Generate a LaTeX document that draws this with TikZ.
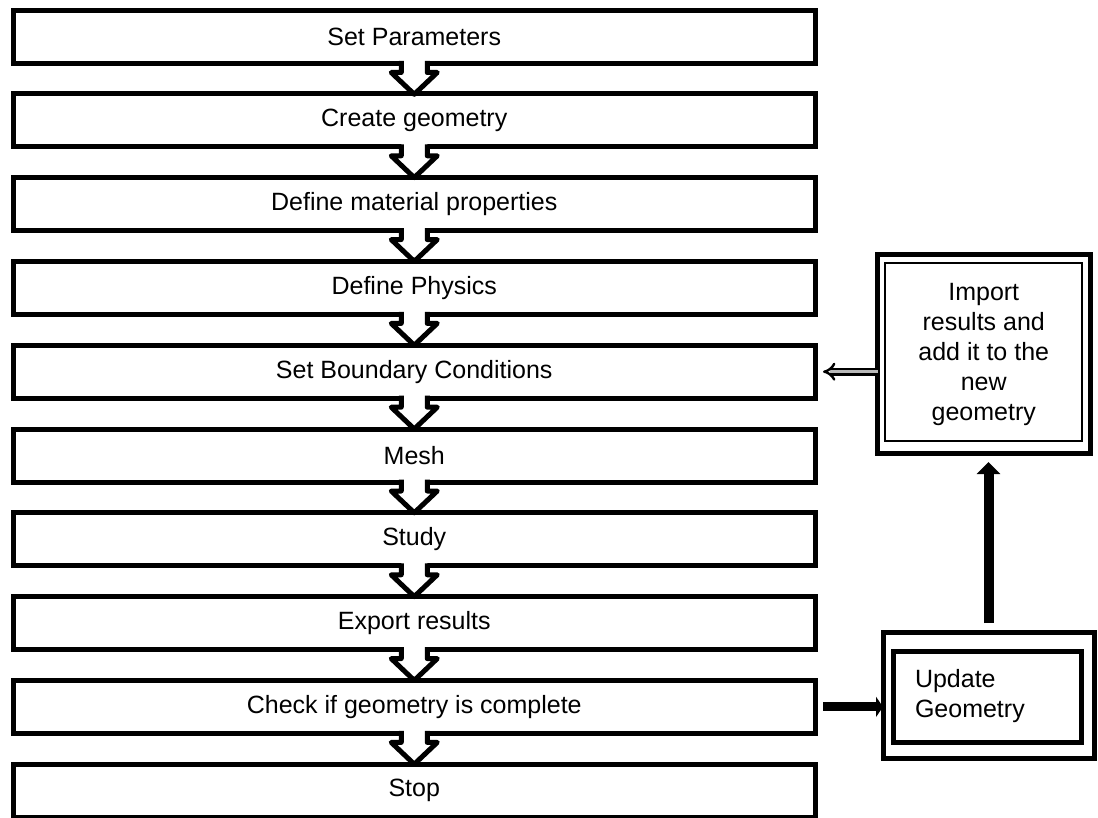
\documentclass[tikz,border=0pt]{standalone}
\usepackage{fontspec}
\setmainfont{Liberation Sans}
\usetikzlibrary{arrows.meta,calc}
\begin{document}
\begin{tikzpicture}[x=1pt,y=-1pt,
  stepbox/.style={draw, line width=5pt, outer sep=0pt, inner sep=0pt,
    minimum width=802.5pt, minimum height=53pt, font=\fontsize{25}{29}\selectfont},
  sidebox/.style={draw, line width=5pt, outer sep=0pt, font=\fontsize{25}{30}\selectfont},
  chev/.style={line width=5pt, line join=round},
  thickarrow/.style={line width=9pt, -{Triangle[length=7pt,width=20pt]}},
  uparrow/.style={line width=10pt, -{Triangle[length=12pt,width=23pt]}},
  hollowarrow/.style={double=gray!55, double distance=3.5pt, line width=2.4pt, -{Implies}}]
\useasboundingbox (0,0) rectangle (1098,818);

\node[stepbox] (b0) at (414.25,37) {Set Parameters};
\node[stepbox] (b1) at (414.25,120.3) {Create geometry};
\node[stepbox] (b2) at (414.25,204.1) {Define material properties};
\node[stepbox] (b3) at (414.25,287.9) {Define Physics};
\node[stepbox] (b4) at (414.25,371.7) {Set Boundary Conditions};
\node[stepbox] (b5) at (414.25,455.5) {Mesh};
\node[stepbox] (b6) at (414.25,539.3) {Study};
\node[stepbox] (b7) at (414.25,623.1) {Export results};
\node[stepbox] (b8) at (414.25,706.9) {Check if geometry is complete};
\node[stepbox] (b9) at (414.25,790.7) {Stop};

\foreach \a in {b0,b1,b2,b3,b4,b5,b6,b7,b8} {
  \begin{scope}[shift={(\a.south)}]
    \fill[white] (-13,-2.6) -- (-13,9) -- (-23,9) -- (0,30.8) -- (23,9) -- (13,9) -- (13,-2.6) -- cycle;
    \draw[chev] (-13,-2.5) -- (-13,9) -- (-23,9) -- (0,30.8) -- (23,9) -- (13,9) -- (13,-2.5);
  \end{scope}
}

\node[sidebox, minimum width=212.5pt, minimum height=198pt, align=center] (imp) at (983.75,354)
  {Import\\results and\\add it to the\\new\\geometry};
\draw[line width=1.2pt] ($(imp.north west)+(7.5,8)$) rectangle ($(imp.south east)+(-8,-12)$);

\node[sidebox, minimum width=211pt, minimum height=126pt] (updo) at (988.5,695) {};
\node[sidebox, minimum width=188pt, minimum height=91pt, text width=144pt, inner xsep=22pt, align=left] (upd) at (987,696.5)
  {Update\\Geometry};

\draw[thickarrow, shorten <=7.5pt] (b8.east) -- (b8.east -| updo.west);
\draw[uparrow, shorten <=9pt, shorten >=9pt] (updo.north) -- (updo.north |- imp.south);
\draw[hollowarrow, shorten >=7.5pt] (imp.west |- b4.east) -- (b4.east);
\end{tikzpicture}
\end{document}
